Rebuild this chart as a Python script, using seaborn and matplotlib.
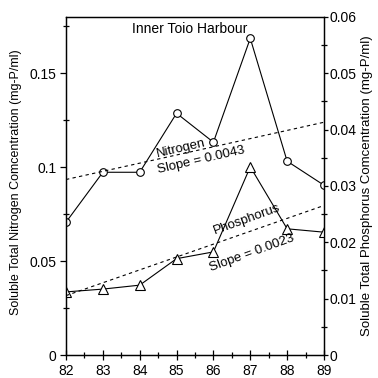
import numpy as np
import pandas as pd
import seaborn as sns
import matplotlib.pyplot as plt
from matplotlib.ticker import MultipleLocator

years = [82, 83, 84, 85, 86, 87, 88, 89]
nitrogen = [0.0707, 0.0973, 0.0973, 0.1287, 0.1133, 0.1686, 0.1032, 0.0904]
phosphorus = [0.0112, 0.0117, 0.0124, 0.0171, 0.0183, 0.0334, 0.0224, 0.0218]

df = pd.DataFrame({'year': years, 'nitrogen': nitrogen, 'phosphorus': phosphorus})

sns.set_style('ticks')
plt.rcParams['font.family'] = ['Liberation Sans', 'DejaVu Sans']
plt.rcParams['axes.linewidth'] = 0.9
plt.rcParams['text.color'] = 'black'
plt.rcParams['axes.labelcolor'] = 'black'
plt.rcParams['xtick.color'] = 'black'
plt.rcParams['ytick.color'] = 'black'
plt.rcParams['axes.edgecolor'] = 'black'

fig = plt.figure(figsize=(3.78, 3.78), dpi=100)
ax = fig.add_axes([0.1746, 0.0608, 0.6825, 0.8944])
ax2 = ax.twinx()

mk = dict(markerfacecolor='white', markeredgecolor='black', markeredgewidth=0.8)

sns.lineplot(data=df, x='year', y='nitrogen', ax=ax, color='black', lw=0.8,
             marker='o', markersize=5.5, **mk)
sns.regplot(data=df, x='year', y='nitrogen', ax=ax, scatter=False, ci=None, color='black',
            line_kws={'lw': 0.8, 'dashes': (3, 3)})

sns.lineplot(data=df, x='year', y='phosphorus', ax=ax2, color='black', lw=0.8,
             marker='^', markersize=6.5, **mk)
sns.regplot(data=df, x='year', y='phosphorus', ax=ax2, scatter=False, ci=None, color='black',
            line_kws={'lw': 0.8, 'dashes': (3, 3)})

ax.set_xlim(82, 89)
ax.set_ylim(0, 0.18)
ax2.set_ylim(0, 0.06)

ax.xaxis.set_minor_locator(MultipleLocator(0.5))
ax.yaxis.set_minor_locator(MultipleLocator(0.025))
ax2.yaxis.set_minor_locator(MultipleLocator(0.005))

ax.set_yticks([0, 0.05, 0.1, 0.15])
ax.set_yticklabels(['0', '0.05', '0.1', '0.15'])
ax2.set_yticks([0, 0.01, 0.02, 0.03, 0.04, 0.05, 0.06])
ax2.set_yticklabels(['0', '0.01', '0.02', '0.03', '0.04', '0.05', '0.06'])
ax.set_xticks(years)
ax.set_xticklabels([str(y) for y in years])

for a in (ax, ax2):
    a.tick_params(which='major', length=4, width=0.9, labelsize=10, pad=3)
    a.tick_params(which='minor', length=5, width=0.9, direction='inout')
ax2.tick_params(which='major', length=3, pad=1)
ax.tick_params(axis='x', which='major', direction='inout', length=7)

ax.set_xlabel('')
ax.set_ylabel('Soluble Total Nitrogen Comcentration (mg-P/ml)', fontsize=9)
ax2.set_ylabel('Soluble Total Phosphorus Comcentration (mg-P/ml)', fontsize=9.5)
ax.yaxis.set_label_coords(-0.172, 0.51)
ax2.yaxis.set_label_coords(1.142, 0.5)

ax.text(85.36, 0.1734, 'Inner Toio Harbour', ha='center', va='center', fontsize=10)
ax.text(85.12, 0.110, 'Nitrogen', ha='center', va='center', fontsize=9.5, rotation=13)
ax.text(85.66, 0.1037, 'Slope = 0.0043', ha='center', va='center', fontsize=9.5, rotation=13)
ax2.text(86.91, 0.0240, 'Phosphorus', ha='center', va='center', fontsize=9.5, rotation=20)
ax2.text(87.05, 0.0181, 'Slope = 0.0023', ha='center', va='center', fontsize=9.5, rotation=20)

fig.savefig('out.png', dpi=100)
